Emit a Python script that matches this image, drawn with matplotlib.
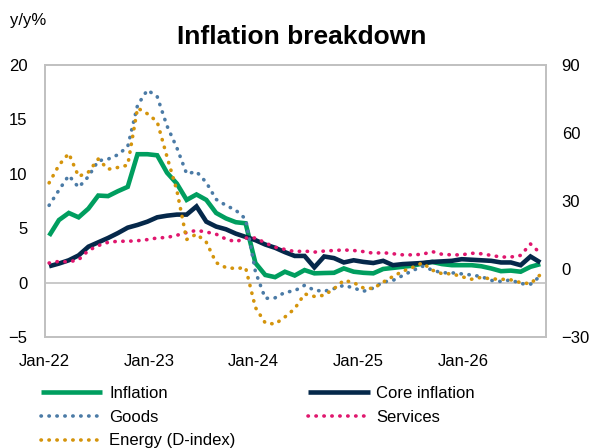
import matplotlib
matplotlib.use("Agg")
import matplotlib.pyplot as plt
from matplotlib.lines import Line2D
import numpy as np

plt.rcParams["font.family"] = ["Liberation Sans", "DejaVu Sans"]

# Monthly observations, Jan-22 .. Mar-26 (y/y %)
inflation = [4.3, 5.75, 6.4, 6.0, 6.8, 8.0, 7.95, 8.4, 8.8, 11.8,
             11.8, 11.7, 10.1, 9.1, 7.6, 8.1, 7.6, 6.4, 5.9, 5.55,
             5.45, 1.8, 0.7, 0.5, 1.0, 0.65, 1.15, 0.85, 0.88, 0.9,
             1.3, 1.0, 0.9, 0.85, 1.25, 1.35, 1.45, 1.55, 1.75, 1.9,
             1.7, 1.6, 1.6, 1.6, 1.5, 1.3, 1.05, 1.1, 1.0, 1.45, 1.7]
core = [1.5, 1.75, 2.05, 2.5, 3.3, 3.7, 4.1, 4.55, 5.05, 5.3,
        5.6, 6.0, 6.15, 6.25, 6.25, 7.0, 5.6, 5.15, 4.9, 4.5,
        4.2, 3.9, 3.5, 3.2, 2.8, 2.45, 2.45, 1.4, 2.4, 2.25,
        1.85, 2.05, 1.9, 1.8, 2.0, 1.6, 1.7, 1.75, 1.8, 1.9,
        1.95, 2.0, 2.15, 2.1, 2.05, 2.0, 1.85, 1.85, 1.6, 2.4, 1.85]
goods = [7.1, 8.5, 9.85, 8.75, 9.75, 11.2, 11.35, 11.75, 12.5, 16.3,
         17.7, 17.1, 14.4, 12.4, 10.0, 10.2, 9.2, 7.65, 7.1, 6.65,
         5.85, 1.0, -1.45, -1.4, -0.9, -0.75, -0.25, -0.7, -0.8, -0.55,
         -0.25, -0.5, -0.8, -0.5, 0.05, 0.2, 0.65, 1.1, 1.5, 1.15,
         0.9, 0.9, 0.8, 0.7, 0.55, 0.2, 0.1, 0.25, -0.1, -0.15, 0.6]
services = [1.8, 1.95, 1.9, 2.1, 2.95, 3.4, 3.7, 3.8, 3.8, 3.85,
            3.95, 4.1, 4.15, 4.35, 4.6, 4.8, 4.65, 4.45, 4.0, 3.75,
            4.1, 4.1, 3.65, 3.25, 3.05, 2.85, 2.9, 2.8, 2.9, 2.95,
            3.0, 2.95, 2.85, 2.7, 2.75, 2.65, 2.55, 2.55, 2.6, 2.85,
            2.6, 2.55, 2.55, 2.7, 2.65, 2.5, 2.35, 2.35, 2.5, 3.55, 2.7]
energy = [38.0, 45.8, 51.0, 40.8, 42.8, 48.5, 44.0, 44.8, 45.8, 71.0,
          68.5, 65.0, 49.5, 34.7, 13.0, 15.4, 11.8, 2.8, 0.6, 0.2,
          0.6, -17.0, -23.8, -24.3, -21.2, -17.5, -11.0, -12.1, -11.6, -8.7,
          -5.0, -6.0, -8.4, -8.6, -5.8, -3.3, -1.0, 0.7, 2.7, -0.5,
          -2.1, -2.1, -3.4, -4.5, -3.7, -4.4, -4.5, -4.8, -6.0, -6.5, -2.5]

year_labels = ["Jan-22", "Jan-23", "Jan-24", "Jan-25", "Jan-26"]

GREEN = "#009E5F"
NAVY = "#05284A"
BLUE = "#4B7BA6"
PINK = "#E0176E"
GOLD = "#D4940C"
GRID = "#C0C0C0"

x = np.arange(len(inflation))

fig = plt.figure(figsize=(5.89, 4.48), dpi=100)
ax = fig.add_axes([0.0759, 0.2478, 0.8506, 0.6071])
ax2 = ax.twinx()

solid_kw = dict(linewidth=3.3, solid_capstyle="butt", solid_joinstyle="miter")
dot_kw = dict(linewidth=2.6, linestyle=(0, (0.1, 2.1)), dash_capstyle="round")

ax.axhline(0, color=GRID, linewidth=1.2, zorder=1)
ax.plot(x, inflation, color=GREEN, zorder=3, **solid_kw)
ax.plot(x, core, color=NAVY, zorder=4, **solid_kw)
ax.plot(x, goods, color=BLUE, zorder=5, **dot_kw)
ax.plot(x, services, color=PINK, zorder=6, **dot_kw)
ax2.plot(x, energy, color=GOLD, zorder=5, **dot_kw)

x_left, x_right = -0.45, 50.55
ax.set_xlim(x_left, x_right)
label_step = 10.64
ax.set_xticks([x_left + label_step * i for i in range(len(year_labels))])
ax.set_xticklabels(year_labels)

ax.set_ylim(-5, 20)
ax.set_yticks(np.arange(-5, 21, 5))
ax2.set_ylim(-30, 90)
ax2.set_yticks(np.arange(-30, 91, 30))

for a in (ax, ax2):
    for s in a.spines.values():
        s.set_color(GRID)
        s.set_linewidth(1.2)
    a.tick_params(length=0, labelsize=12, colors="black")
ax.tick_params(axis="y", pad=12.5)
ax.tick_params(axis="x", pad=12)
ax2.tick_params(axis="y", pad=11.5)

fig.text(302 / 589, 1 - 37 / 448, "Inflation breakdown", ha="center", va="center",
         fontsize=19, fontweight="bold")
fig.text(10 / 589, 1 - 21 / 448, "y/y%", ha="left", va="center", fontsize=12)

handles = [
    Line2D([], [], color=GREEN, **solid_kw),
    Line2D([], [], color=BLUE, **dot_kw),
    Line2D([], [], color=GOLD, **dot_kw),
    Line2D([], [], color=NAVY, **solid_kw),
    Line2D([], [], color=PINK, **dot_kw),
]
labels = ["Inflation", "Goods", "Energy (D-index)", "Core inflation", "Services"]
fig.legend(handles, labels, ncol=2, loc="upper left",
           bbox_to_anchor=(40.7 / 589, 1 - 386 / 448), frameon=False,
           borderpad=0, borderaxespad=0, fontsize=12, handlelength=3.7,
           handletextpad=0.4, columnspacing=4.35, labelspacing=0.52)

fig.savefig("out.png", dpi=100)
